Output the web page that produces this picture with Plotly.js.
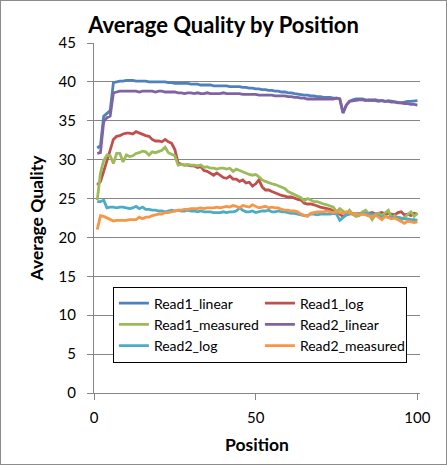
<!DOCTYPE html>
<html>
<head>
<meta charset="utf-8">
<script src="https://cdn.plot.ly/plotly-3.0.1.min.js"></script>
<style>
html,body{margin:0;padding:0;background:#fff;}
#wrap{position:relative;width:447px;height:465px;}
#chart{width:447px;height:465px;}
#frame{position:absolute;left:0;top:0;width:445px;height:463px;border:1px solid #8c8c8c;pointer-events:none;}
</style>
</head>
<body>
<div id="wrap"><div id="chart"></div><div id="frame"></div></div>
<script>
var positions = [];
for (var i = 1; i <= 100; i++) positions.push(i);

var seriesNames = ["Read1_linear","Read1_log","Read1_measured","Read2_linear","Read2_log","Read2_measured"];

var read1Linear = [31.5,31.8,35.6,36.0,36.3,39.9,40.0,40.1,40.1,40.2,40.2,40.2,40.1,40.1,40.1,40.1,40.0,40.0,40.0,40.0,
40.0,40.0,39.9,39.9,39.8,39.8,39.8,39.8,39.8,39.7,39.7,39.7,39.6,39.6,39.6,39.6,39.5,39.5,39.5,39.5,
39.5,39.4,39.4,39.4,39.4,39.3,39.3,39.2,39.2,39.1,39.1,39.0,39.0,38.9,38.9,38.8,38.8,38.7,38.7,38.6,
38.6,38.5,38.4,38.4,38.3,38.3,38.2,38.2,38.1,38.1,38.0,38.0,38.0,37.9,37.9,37.8,36.0,37.0,37.5,37.7,
37.8,37.8,37.8,37.7,37.6,37.7,37.6,37.5,37.6,37.5,37.6,37.5,37.4,37.3,37.3,37.4,37.5,37.5,37.6,37.6];

var read1Log = [26.75,27.2,28.5,29.8,31.2,32.6,33.0,33.1,33.3,33.4,33.4,33.3,33.6,33.4,33.3,33.1,33.0,32.6,32.4,32.4,
32.3,32.6,32.3,32.1,31.3,29.6,29.4,29.3,29.3,29.2,29.2,29.0,29.1,28.6,28.5,28.2,28.0,28.3,28.0,27.7,
27.6,27.9,27.5,27.5,27.2,27.4,27.0,27.1,26.6,26.9,27.4,26.5,26.1,26.1,25.9,25.7,25.5,25.4,25.3,25.2,
25.2,25.0,24.9,24.8,24.4,24.3,24.3,24.2,24.0,23.9,23.8,23.7,23.6,23.4,23.3,23.0,22.7,22.9,23.1,23.0,
23.1,23.0,23.1,23.0,23.1,23.2,23.0,23.1,23.2,23.0,23.1,23.0,22.9,23.2,23.3,22.9,23.0,22.8,23.1,23.0];

var read1Measured = [24.8,28.3,29.9,30.6,30.5,29.5,30.8,30.8,29.7,30.6,30.4,30.5,30.8,30.9,31.1,31.0,30.6,31.0,30.9,31.1,
31.2,31.6,30.9,30.7,30.5,29.3,29.4,29.3,29.4,29.3,29.3,29.2,29.3,29.0,29.1,28.9,28.9,28.8,28.9,28.9,
28.8,28.9,28.5,28.8,28.6,28.4,28.3,28.1,28.0,28.1,27.8,27.4,27.2,27.0,26.9,26.8,26.6,26.4,26.3,25.9,
25.7,25.6,25.3,25.1,24.7,25.0,24.8,24.6,24.6,24.4,24.3,24.2,24.0,23.9,23.3,23.7,23.4,23.0,23.5,23.0,
22.7,22.8,23.3,23.5,23.0,22.3,22.9,23.1,22.8,23.2,23.5,22.5,22.8,22.4,22.2,22.6,22.9,23.3,22.7,23.1];

var read2Linear = [30.8,30.9,34.9,35.4,35.6,38.6,38.7,38.8,38.8,38.8,38.8,38.8,38.8,38.7,38.8,38.8,38.8,38.8,38.7,38.8,
38.8,38.7,38.7,38.7,38.7,38.6,38.6,38.5,38.6,38.6,38.5,38.6,38.5,38.5,38.6,38.5,38.5,38.5,38.5,38.6,
38.5,38.5,38.5,38.5,38.5,38.4,38.4,38.4,38.4,38.4,38.3,38.3,38.3,38.3,38.3,38.2,38.2,38.2,38.2,38.1,
38.1,38.0,38.0,37.9,37.9,37.8,37.8,37.8,37.8,37.8,37.8,37.8,37.8,37.8,37.9,37.8,36.0,37.0,37.5,37.6,
37.6,37.7,37.7,37.6,37.7,37.6,37.7,37.6,37.6,37.5,37.5,37.4,37.4,37.3,37.3,37.2,37.2,37.1,37.1,37.0];

var read2Log = [24.6,24.6,24.8,23.8,23.9,23.9,23.8,23.9,23.9,23.8,23.7,23.8,24.0,23.7,23.9,23.6,23.6,23.5,23.5,23.4,
23.4,23.3,23.4,23.5,23.4,23.5,23.4,23.4,23.5,23.4,23.4,23.3,23.4,23.3,23.3,23.3,23.2,23.2,23.2,23.3,
23.2,23.3,23.3,23.4,23.8,23.5,23.3,23.3,23.4,23.2,23.3,23.4,23.4,23.5,23.3,23.3,23.4,23.3,23.3,23.2,
23.1,23.1,23.0,22.9,22.8,22.8,23.0,23.0,22.9,23.0,23.0,23.0,23.0,23.1,23.0,22.2,22.6,22.9,23.0,23.1,
23.1,23.1,23.0,23.1,23.0,23.0,22.9,22.8,22.6,22.7,22.6,22.6,22.5,22.6,22.5,22.4,22.4,22.3,22.3,22.2];

var read2Measured = [21.0,22.8,22.7,22.5,22.3,22.1,22.2,22.2,22.2,22.2,22.3,22.3,22.3,22.6,22.4,22.6,22.6,22.8,22.9,23.0,
23.0,23.2,23.2,23.3,23.4,23.5,23.5,23.6,23.6,23.7,23.7,23.7,23.8,23.7,23.8,23.8,23.8,23.9,23.8,23.9,
24.0,23.9,24.1,24.0,23.8,24.1,24.0,23.9,24.2,24.0,23.8,23.9,24.0,23.8,23.9,23.8,23.8,23.6,23.5,23.5,
23.4,23.4,23.3,23.0,22.8,22.7,23.1,23.2,23.3,23.3,23.3,23.4,23.3,23.2,23.3,23.2,23.1,23.3,23.2,23.0,
23.1,22.9,23.0,22.9,22.7,22.6,22.9,22.6,22.3,22.7,22.5,22.4,22.5,22.3,22.1,21.8,22.1,22.0,21.9,22.0];

var yTickVals = [0,5,10,15,20,25,30,35,40,45];
var xTickVals = [0,50,100];

var seriesValues = [read1Linear, read1Log, read1Measured, read2Linear, read2Log, read2Measured];
var seriesColors = ["#4F81BD","#C0504D","#9BBB59","#8064A2","#4BACC6","#F79646"];

var FONT = "Lato, 'Open Sans', sans-serif";

var traces = seriesNames.map(function(name, k){
  return {
    x: positions, y: seriesValues[k], name: name,
    type: 'scatter', mode: 'lines',
    line: {color: seriesColors[k], width: 2.8},
    hoverinfo: 'skip'
  };
});

var layout = {
  width: 447, height: 465,
  margin: {l: 94, r: 27, t: 43, b: 72, pad: 0},
  paper_bgcolor: '#fff', plot_bgcolor: '#fff',
  font: {family: FONT, size: 15, color: '#000'},
  title: {text: '<b>Average Quality by Position</b>', x: 0.5, xanchor: 'center', y: 0.945, yanchor: 'middle',
          font: {family: FONT, size: 22, color: '#000'}},
  xaxis: {
    range: [0, 100.8], tickvals: xTickVals, ticktext: xTickVals.map(String),
    showgrid: false, zeroline: false, showline: true, linecolor: '#868686', linewidth: 1,
    ticks: 'outside', ticklen: 6, tickcolor: '#868686', ticklabelstandoff: 5,
    tickfont: {family: FONT, size: 15, color: '#000'},
    title: {text: '<b>Position</b>', font: {family: FONT, size: 17.5, color: '#000'}, standoff: 13},
    fixedrange: true
  },
  yaxis: {
    range: [0, 45], tickvals: yTickVals, ticktext: yTickVals.map(String),
    showgrid: true, gridcolor: '#868686', gridwidth: 1, zeroline: false,
    showline: true, linecolor: '#868686', linewidth: 1,
    ticks: 'outside', ticklen: 6, tickcolor: '#868686', ticklabelstandoff: 8,
    tickfont: {family: FONT, size: 15, color: '#000'},
    title: {text: '<b>Average Quality</b>', font: {family: FONT, size: 17.5, color: '#000'}, standoff: 10},
    fixedrange: true
  },
  showlegend: true,
  legend: {
    orientation: 'h', x: 0.058, y: 0.304, xanchor: 'left', yanchor: 'top',
    bgcolor: '#fff', bordercolor: '#000', borderwidth: 1,
    entrywidth: 101, entrywidthmode: 'pixels',
    font: {family: FONT, size: 14, color: '#000'},
    traceorder: 'normal'
  }
};

Plotly.newPlot('chart', traces, layout, {staticPlot: true, displayModeBar: false});
</script>
</body>
</html>
